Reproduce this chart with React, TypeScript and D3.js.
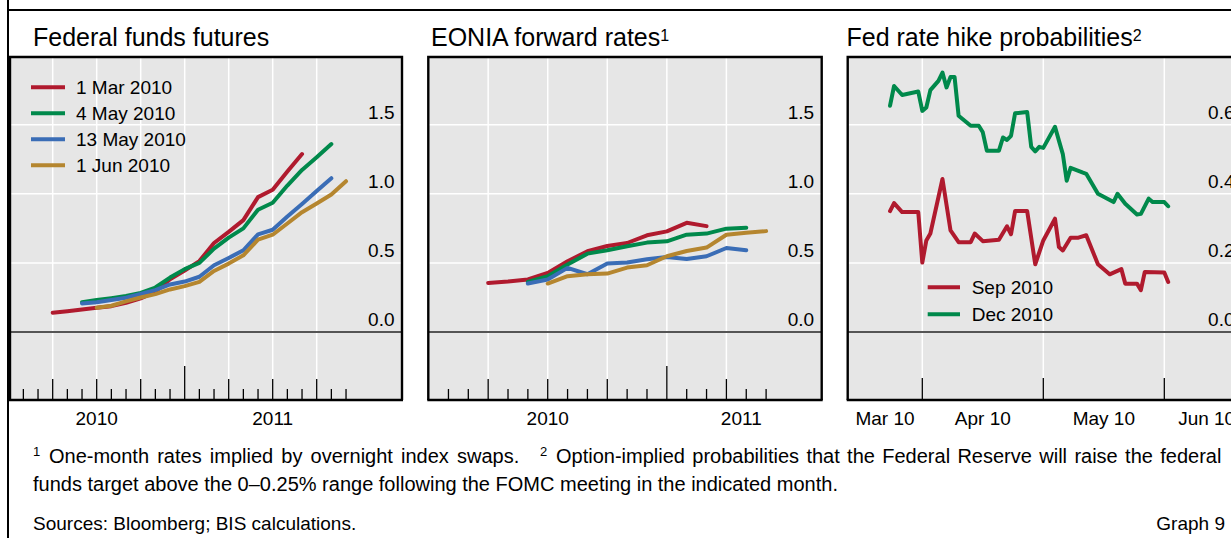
import React from 'react';
import * as d3 from 'd3';

const FONT = "'Liberation Sans', Arial, Helvetica, sans-serif";

// ---------- Panel 1: Federal funds futures (monthly contracts) ----------
const ffMonths = [
  '2009-10', '2009-11', '2009-12', '2010-01', '2010-02', '2010-03', '2010-04',
  '2010-05', '2010-06', '2010-07', '2010-08', '2010-09', '2010-10', '2010-11',
  '2010-12', '2011-01', '2011-02', '2011-03', '2011-04', '2011-05', '2011-06',
];
const ffMar1 = [0.139, 0.150, 0.163, 0.175, 0.187, 0.211, 0.243, 0.291, 0.382, 0.445, 0.513, 0.644, 0.725, 0.81, 0.976, 1.029, 1.161, 1.288, null, null, null];
const ffMay4 = [null, null, 0.216, 0.231, 0.245, 0.26, 0.283, 0.322, 0.394, 0.455, 0.5, 0.603, 0.683, 0.75, 0.885, 0.935, 1.06, 1.173, 1.264, 1.36, null];
const ffMay13 = [null, null, 0.207, 0.216, 0.231, 0.248, 0.275, 0.303, 0.344, 0.365, 0.4, 0.483, 0.536, 0.591, 0.707, 0.74, 0.836, 0.926, 1.02, 1.113, null];
const ffJun1 = [null, null, null, 0.175, 0.19, 0.222, 0.25, 0.274, 0.308, 0.332, 0.363, 0.442, 0.495, 0.555, 0.668, 0.704, 0.785, 0.867, 0.93, 0.995, 1.091];
const ffXLabels = [{ label: '2010', month: '2010-01' }, { label: '2011', month: '2011-01' }];

// ---------- Panel 2: EONIA forward rates ----------
const eoMonths = [
  '2009-10', '2009-11', '2009-12', '2010-01', '2010-02', '2010-03', '2010-04', '2010-05',
  '2010-06', '2010-07', '2010-08', '2010-09', '2010-10', '2010-11', '2010-12',
];
const eoMar1 = [0.355, 0.365, 0.38, 0.428, 0.512, 0.584, 0.622, 0.644, 0.70, 0.728, 0.79, 0.766, null, null, null];
const eoMay4 = [null, null, 0.363, 0.404, 0.488, 0.567, 0.591, 0.62, 0.647, 0.656, 0.704, 0.712, 0.748, 0.755, null];
const eoMay13 = [null, null, 0.351, 0.38, 0.464, 0.418, 0.495, 0.503, 0.526, 0.543, 0.528, 0.548, 0.608, 0.591, null];
const eoJun1 = [null, null, null, 0.351, 0.404, 0.418, 0.423, 0.466, 0.483, 0.548, 0.586, 0.611, 0.704, 0.719, 0.730];
const eoXLabels = [{ label: '2010', month: 0 }, { label: '2011', month: 9.75 }];

const legendNames = ['1 Mar 2010', '4 May 2010', '13 May 2010', '1 Jun 2010'];
const rateTicks = [0, 0.5, 1.0, 1.5];

// ---------- Panel 3: Fed rate hike probabilities ----------
const sepDates = [
  '2010-03-24', '2010-03-25', '2010-03-27', '2010-03-31', '2010-04-01', '2010-04-02', '2010-04-03',
  '2010-04-06', '2010-04-08', '2010-04-10', '2010-04-13', '2010-04-14', '2010-04-16', '2010-04-20',
  '2010-04-22', '2010-04-23', '2010-04-24', '2010-04-27', '2010-04-29', '2010-05-01', '2010-05-04',
  '2010-05-05', '2010-05-06', '2010-05-08', '2010-05-10', '2010-05-12', '2010-05-15', '2010-05-18',
  '2010-05-21', '2010-05-22', '2010-05-25', '2010-05-26', '2010-05-27', '2010-06-01', '2010-06-02',
];
const sepValues = [
  0.35, 0.373, 0.347, 0.347, 0.201, 0.265, 0.285,
  0.443, 0.294, 0.26, 0.26, 0.285, 0.263, 0.267,
  0.306, 0.283, 0.35, 0.35, 0.196, 0.265, 0.328,
  0.246, 0.236, 0.273, 0.273, 0.28, 0.196, 0.167,
  0.182, 0.14, 0.14, 0.121, 0.174, 0.172, 0.145,
];
const decDates = [
  '2010-03-24', '2010-03-25', '2010-03-27', '2010-03-31', '2010-04-01', '2010-04-02', '2010-04-03',
  '2010-04-05', '2010-04-06', '2010-04-07', '2010-04-08', '2010-04-09', '2010-04-10', '2010-04-13',
  '2010-04-15', '2010-04-16', '2010-04-17', '2010-04-20', '2010-04-21', '2010-04-22', '2010-04-23',
  '2010-04-24', '2010-04-27', '2010-04-28', '2010-04-29', '2010-04-30', '2010-05-01', '2010-05-04',
  '2010-05-05', '2010-05-06', '2010-05-07', '2010-05-08', '2010-05-11', '2010-05-12', '2010-05-15',
  '2010-05-19', '2010-05-20', '2010-05-22', '2010-05-25', '2010-05-26', '2010-05-28', '2010-05-29',
  '2010-06-01', '2010-06-02',
];
const decValues = [
  0.655, 0.712, 0.686, 0.696, 0.640, 0.650, 0.700,
  0.727, 0.751, 0.708, 0.738, 0.738, 0.626, 0.597,
  0.597, 0.578, 0.525, 0.525, 0.563, 0.556, 0.568,
  0.633, 0.637, 0.536, 0.523, 0.536, 0.533, 0.594,
  0.554, 0.515, 0.438, 0.475, 0.462, 0.458, 0.400,
  0.376, 0.400, 0.371, 0.340, 0.342, 0.386, 0.376,
  0.376, 0.364,
];
const probLegend = ['Sep 2010', 'Dec 2010'];
const probTicks = [0, 0.2, 0.4, 0.6];
const probMonthStarts = ['2010-03-01', '2010-04-01', '2010-05-01', '2010-06-01', '2010-07-01'];
const probMonthLabels = ['Mar 10', 'Apr 10', 'May 10', 'Jun 10'];

// ---------- styling ----------
const COLORS = ['#b01a2e', '#00894b', '#3a6db6', '#b5862f'];
const PLOT_TOP = 57;
const PLOT_BOTTOM = 400;
const BG = '#e6e6e6';

const monthIndex = (s: string) => {
  const [y, m] = s.split('-').map(Number);
  return (y - 2010) * 12 + (m - 1);
};
const parseDate = d3.timeParse('%Y-%m-%d');

type MonthPanelProps = {
  left: number;
  right: number;
  mDomain: [number, number];
  months: string[];
  series: (number | null)[][];
  tickRange: [number, number];
  labels: { label: string; m: number }[];
  showLegend: boolean;
};

function MonthPanel(p: MonthPanelProps) {
  const x = d3.scaleLinear().domain(p.mDomain).range([p.left, p.right]);
  const y = d3.scaleLinear().domain([-0.492, 1.99]).range([PLOT_BOTTOM, PLOT_TOP]);
  const ms = p.months.map(monthIndex);
  const line = d3
    .line<{ m: number; v: number }>()
    .x((d) => x(d.m))
    .y((d) => y(d.v));
  const ticks = d3.range(p.tickRange[0], p.tickRange[1] + 1);
  const grid = ticks.filter((t) => ((t % 3) + 3) % 3 === 0);
  return (
    <g>
      <rect x={p.left} y={PLOT_TOP} width={p.right - p.left} height={PLOT_BOTTOM - PLOT_TOP} fill={BG} />
      {grid.map((t) => (
        <line key={'gv' + t} x1={x(t)} x2={x(t)} y1={PLOT_TOP} y2={PLOT_BOTTOM} stroke="#fff" strokeWidth={1.5} />
      ))}
      {rateTicks.filter((v) => v > 0).map((v) => (
        <line key={'gh' + v} x1={p.left} x2={p.right} y1={y(v)} y2={y(v)} stroke="#fff" strokeWidth={1.5} />
      ))}
      <line x1={p.left} x2={p.right} y1={y(0)} y2={y(0)} stroke="#555" strokeWidth={2} />
      {ticks.map((t) => {
        const len = t === 6 ? 34 : ((t % 3) + 3) % 3 === 0 ? 21 : 11;
        return <line key={'t' + t} x1={x(t)} x2={x(t)} y1={PLOT_BOTTOM} y2={PLOT_BOTTOM - len} stroke="#000" strokeWidth={1.3} />;
      })}
      {rateTicks.map((v) => (
        <text key={'yl' + v} x={p.right - 7.5} y={y(v) - 6} textAnchor="end" fontSize={19} fontFamily={FONT} fill="#000">
          {d3.format('.1f')(v)}
        </text>
      ))}
      {p.series.map((vals, i) => {
        const pts = vals
          .map((v, j) => ({ m: ms[j], v }))
          .filter((d) => d.v !== null) as { m: number; v: number }[];
        return (
          <path key={'s' + i} d={line(pts) || ''} fill="none" stroke={COLORS[i]} strokeWidth={4} strokeLinejoin="round" strokeLinecap="round" />
        );
      })}
      {p.showLegend &&
        legendNames.map((n, i) => (
          <g key={'lg' + i}>
            <line x1={31} x2={65} y1={87.3 + 26 * i} y2={87.3 + 26 * i} stroke={COLORS[i]} strokeWidth={4} />
            <text x={76} y={94 + 26 * i} fontSize={19} fontFamily={FONT} fill="#000">
              {n}
            </text>
          </g>
        ))}
      <path
        d={`M${p.left},${PLOT_BOTTOM} L${p.left},${PLOT_TOP} L${p.right},${PLOT_TOP} L${p.right},${PLOT_BOTTOM}`}
        fill="none"
        stroke="#000"
        strokeWidth={2.4}
      />
      <line x1={p.left - 1} x2={p.right + 1} y1={PLOT_BOTTOM} y2={PLOT_BOTTOM} stroke="#000" strokeWidth={2.6} />
      {p.labels.map((l) => (
        <text key={'xl' + l.label} x={x(l.m)} y={425} textAnchor="middle" fontSize={19} fontFamily={FONT} fill="#000">
          {l.label}
        </text>
      ))}
    </g>
  );
}

function ProbPanel() {
  const left = 847.7;
  const right = 1249;
  const starts = probMonthStarts.map((s) => parseDate(s) as Date);
  const x = d3
    .scaleTime()
    .domain([starts[1], starts[2], starts[3]])
    .range([922.3, 1043.3, 1164.3]);
  const y = d3.scaleLinear().domain([-0.1968, 0.796]).range([PLOT_BOTTOM, PLOT_TOP]);
  const line = d3
    .line<{ d: Date; v: number }>()
    .x((d) => x(d.d))
    .y((d) => y(d.v));
  const sep = sepDates.map((s, i) => ({ d: parseDate(s) as Date, v: sepValues[i] }));
  const dec = decDates.map((s, i) => ({ d: parseDate(s) as Date, v: decValues[i] }));
  const inner = [starts[1], starts[2], starts[3]];
  return (
    <g>
      <rect x={left} y={PLOT_TOP} width={right - left} height={PLOT_BOTTOM - PLOT_TOP} fill={BG} />
      {inner.map((d, i) => (
        <line key={'gv' + i} x1={x(d)} x2={x(d)} y1={PLOT_TOP} y2={PLOT_BOTTOM} stroke="#fff" strokeWidth={1.5} />
      ))}
      {probTicks.filter((v) => v > 0).map((v) => (
        <line key={'gh' + v} x1={left} x2={right} y1={y(v)} y2={y(v)} stroke="#fff" strokeWidth={1.5} />
      ))}
      <line x1={left} x2={right} y1={y(0)} y2={y(0)} stroke="#555" strokeWidth={2} />
      {inner.map((d, i) => (
        <line key={'t' + i} x1={x(d)} x2={x(d)} y1={PLOT_BOTTOM} y2={PLOT_BOTTOM - 22} stroke="#000" strokeWidth={1.3} />
      ))}
      {probTicks.map((v) => (
        <text key={'yl' + v} x={1234.5} y={y(v) - 6} textAnchor="end" fontSize={19} fontFamily={FONT} fill="#000">
          {d3.format('.1f')(v)}
        </text>
      ))}
      <path d={line(dec) || ''} fill="none" stroke={COLORS[1]} strokeWidth={4} strokeLinejoin="round" strokeLinecap="round" />
      <path d={line(sep) || ''} fill="none" stroke={COLORS[0]} strokeWidth={4} strokeLinejoin="round" strokeLinecap="round" />
      {probLegend.map((n, i) => (
        <g key={'lg' + i}>
          <line x1={927.7} x2={960} y1={287.3 + 27 * i} y2={287.3 + 27 * i} stroke={COLORS[i]} strokeWidth={4} />
          <text x={971.7} y={294 + 27 * i} fontSize={19} fontFamily={FONT} fill="#000">
            {n}
          </text>
        </g>
      ))}
      <path
        d={`M${left},${PLOT_BOTTOM} L${left},${PLOT_TOP} L${right},${PLOT_TOP} L${right},${PLOT_BOTTOM}`}
        fill="none"
        stroke="#000"
        strokeWidth={2.4}
      />
      <line x1={left - 1} x2={right + 1} y1={PLOT_BOTTOM} y2={PLOT_BOTTOM} stroke="#000" strokeWidth={2.6} />
      {probMonthLabels.map((l, i) => {
        const a = Math.max(x(starts[i]), left);
        const b = Math.min(x(starts[i + 1]), right);
        return (
          <text key={'xl' + i} x={(a + b) / 2} y={425} textAnchor="middle" fontSize={19} fontFamily={FONT} fill="#000">
            {l}
          </text>
        );
      })}
    </g>
  );
}

export default function App() {
  return (
    <svg
      width={1231}
      height={538}
      viewBox="0 0 1231 538"
      style={{ position: 'absolute', left: 0, top: 0, background: '#fff' }}
    >
      <rect x={0} y={0} width={1231} height={538} fill="#fff" />
      {/* outer frame */}
      <line x1={8} x2={8} y1={0} y2={538} stroke="#000" strokeWidth={2} />
      <line x1={7} x2={1231} y1={10} y2={10} stroke="#000" strokeWidth={2} />

      {/* titles */}
      <text x={33} y={46} fontSize={25} fontFamily={FONT} fill="#000">
        Federal funds futures
      </text>
      <text x={431} y={46} fontSize={25} fontFamily={FONT} fill="#000">
        EONIA forward rates
        <tspan fontSize={16} dy={-5}>1</tspan>
      </text>
      <text x={846.5} y={46} fontSize={25} fontFamily={FONT} fill="#000">
        Fed rate hike probabilities
        <tspan fontSize={16} dy={-5}>2</tspan>
      </text>

      <MonthPanel
        left={10}
        right={402}
        mDomain={[-5.911, 20.816]}
        months={ffMonths}
        series={[ffMar1, ffMay4, ffMay13, ffJun1]}
        tickRange={[-5, 17]}
        labels={ffXLabels.map((l) => ({ label: l.label, m: monthIndex(l.month) }))}
        showLegend={true}
      />
      <MonthPanel
        left={428.3}
        right={821.7}
        mDomain={[-6.015, 13.8]}
        months={eoMonths}
        series={[eoMar1, eoMay4, eoMay13, eoJun1]}
        tickRange={[-5, 11]}
        labels={eoXLabels.map((l) => ({ label: l.label, m: l.month }))}
        showLegend={false}
      />
      <ProbPanel />

      {/* footnotes */}
      <g fontFamily={FONT} fill="#000">
        <text x={33} y={456} fontSize={13}>1</text>
        <text x={49} y={463} fontSize={20} wordSpacing={2.6}>One-month rates implied by overnight index swaps.</text>
        <text x={540} y={456} fontSize={13}>2</text>
        <text x={556} y={463} fontSize={20} wordSpacing={1.8}>
          Option-implied probabilities that the Federal Reserve will raise the federal
        </text>
        <text x={33} y={491} fontSize={20}>
          funds target above the 0–0.25% range following the FOMC meeting in the indicated month.
        </text>
        <text x={33} y={530} fontSize={19}>Sources: Bloomberg; BIS calculations.</text>
        <text x={1225} y={530} fontSize={19} textAnchor="end">Graph 9</text>
      </g>
    </svg>
  );
}
